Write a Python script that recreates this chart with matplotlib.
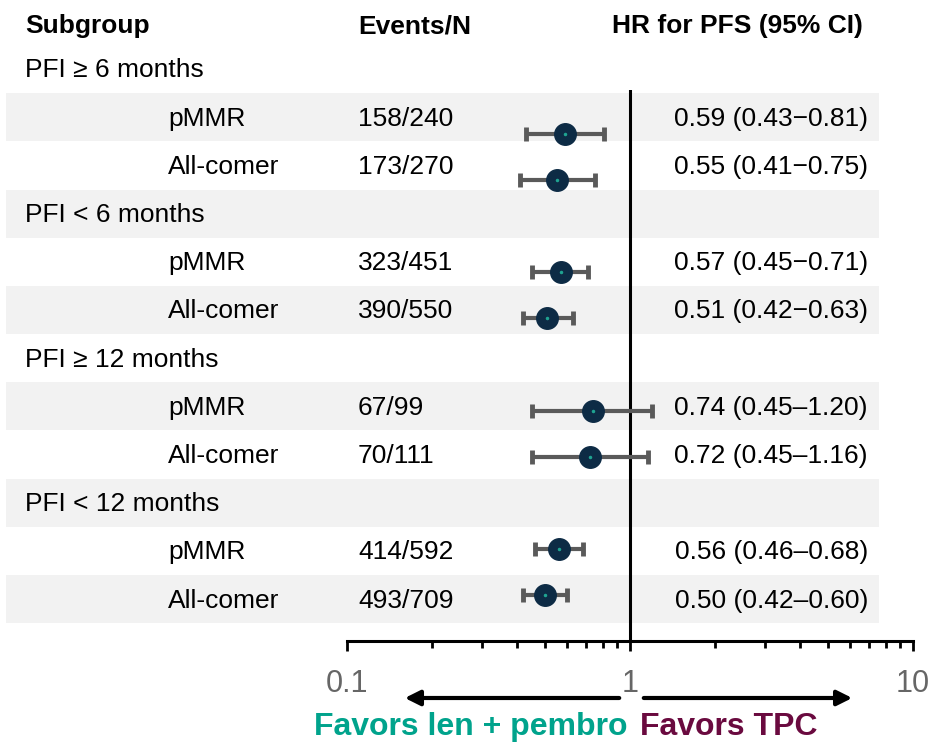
import numpy as np
import matplotlib.pyplot as plt
from matplotlib import font_manager

names = {f.name for f in font_manager.fontManager.ttflist}
narrow = 'Liberation Sans Narrow' if 'Liberation Sans Narrow' in names else 'Liberation Sans'

groups = ["PFI \u2265 6 months", "PFI < 6 months", "PFI \u2265 12 months", "PFI < 12 months"]
subgroups = ["pMMR", "All-comer"] * 4
events = ["158/240", "173/270", "323/451", "390/550", "67/99", "70/111", "414/592", "493/709"]
hr = [0.59, 0.55, 0.57, 0.51, 0.74, 0.72, 0.56, 0.50]
lo = [0.43, 0.41, 0.45, 0.42, 0.45, 0.45, 0.46, 0.42]
hi = [0.81, 0.75, 0.71, 0.63, 1.20, 1.16, 0.68, 0.60]
dash = ["\u2212"] * 4 + ["\u2013"] * 4
hr_text = ["%.2f (%.2f%s%.2f)" % (h, l, d, u) for h, l, d, u in zip(hr, lo, dash, hi)]

W, H = 935, 743
fig = plt.figure(figsize=(W / 100, H / 100), dpi=100)

# background / text axes, y in row units: pixel = 69 + 48.2*row
bg = fig.add_axes([0, 0, 1, 1])
bg.set_xlim(0, W)
bg.set_ylim((H - 69) / 48.2, -69 / 48.2)
bg.axis("off")

fs = 19
tkw = dict(family=narrow, fontsize=fs, va="center", color="black")

bg.text(25, (26 - 69) / 48.2, "Subgroup", fontweight="bold", **tkw)
bg.text(358, (26 - 69) / 48.2, "Events/N", fontweight="bold", **tkw)
bg.text(612, (26 - 69) / 48.2, "HR for PFS (95% CI)", fontweight="bold", **tkw)

sub_rows = []
for g, name in enumerate(groups):
    r = g * 3
    bg.text(25, r + 0.03, name, **tkw)
    sub_rows += [r + 1, r + 2]

for i, r in enumerate(sub_rows):
    bg.text(168, r + 0.03, subgroups[i], **tkw)
    bg.text(358, r + 0.03, events[i], **tkw)
    bg.text(868, r + 0.03, hr_text[i], ha="right", **tkw)

for r in range(1, 12, 2):
    bg.axhspan(r - 0.5, r + 0.5, xmin=6 / W, xmax=879 / W, color="#f2f2f2", lw=0, zorder=0)

# forest axes
x0, x1 = 347, 913
ytop, ybot = 90, 641
ax = fig.add_axes([x0 / W, 1 - ybot / H, (x1 - x0) / W, (ybot - ytop) / H])
ax.patch.set_alpha(0)
ax.set_xscale("log")
ax.set_xlim(0.1, 10)
ax.set_ylim((ybot - 87.9) / 46.1, (ytop - 87.9) / 46.1)
for s in ["top", "right", "left"]:
    ax.spines[s].set_visible(False)
ax.spines["bottom"].set_linewidth(2.2)
ax.set_yticks([])
ax.tick_params(axis="x", which="major", length=7, width=2, labelsize=22,
               labelcolor="#666666", pad=13)
ax.tick_params(axis="x", which="minor", length=5, width=2)
ax.set_xticks([0.1, 1, 10])
ax.set_xticklabels(["0.1", "1", "10"], family="Liberation Sans")
ax.axvline(1, color="black", lw=2.2)

ypos = np.array(sub_rows)
hr_a, lo_a, hi_a = np.array(hr), np.array(lo), np.array(hi)
ax.errorbar(hr_a, ypos, xerr=[hr_a - lo_a, hi_a - hr_a], fmt="none",
            ecolor="#5a5a5a", elinewidth=3, capsize=5, capthick=3.5, zorder=3)
ax.plot(hr_a, ypos, "o", ms=15.5, color="#0d2b45", mec="#0d2b45", zorder=4)
ax.plot(hr_a, ypos, "o", ms=1.5, color="#1fa391", zorder=5)

# arrows and favors labels
ya = (698 - 69) / 48.2
bg.annotate("", xy=(402, ya), xytext=(622, ya),
            arrowprops=dict(arrowstyle="-|>,head_length=0.9,head_width=0.45", lw=3, color="black"))
bg.annotate("", xy=(855, ya), xytext=(641, ya),
            arrowprops=dict(arrowstyle="-|>,head_length=0.9,head_width=0.45", lw=3, color="black"))
yf = (727 - 69) / 48.2
bg.text(627, yf, "Favors len + pembro", ha="right", va="center", family="Liberation Sans",
        fontweight="bold", fontsize=23, color="#00a38c")
bg.text(640, yf, "Favors TPC", ha="left", va="center", family="Liberation Sans",
        fontweight="bold", fontsize=23, color="#6a0a3f")

fig.savefig("out.png", dpi=100)
